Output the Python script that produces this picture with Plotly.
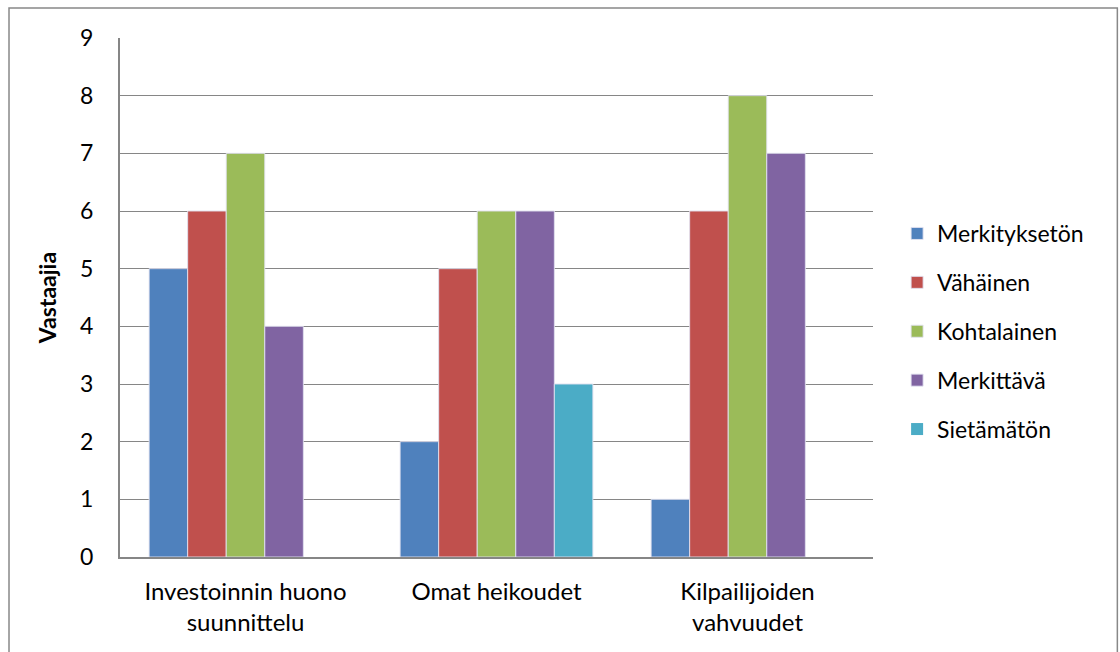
import plotly.graph_objects as go

categories = ["Investoinnin huono<br>suunnittelu", "Omat heikoudet", "Kilpailijoiden<br>vahvuudet"]
series_names = ["Merkityksetön", "Vähäinen", "Kohtalainen", "Merkittävä", "Sietämätön"]
merkitykseton = [5, 2, 1]
vahainen = [6, 5, 6]
kohtalainen = [7, 6, 8]
merkittava = [4, 6, 7]
sietamaton = [0, 3, 0]
y_ticks = [0, 1, 2, 3, 4, 5, 6, 7, 8, 9]

series_values = [merkitykseton, vahainen, kohtalainen, merkittava, sietamaton]
colors = ["#4F81BD", "#C0504D", "#9BBB59", "#8064A2", "#4BACC6"]

FONT = "Lato, Open Sans, sans-serif"
FS = 23

fig = go.Figure()
for name, vals, col in zip(series_names, series_values, colors):
    fig.add_trace(go.Bar(
        x=categories, y=vals, name=name, legendgroup=name,
        marker=dict(color=col,
                    line=dict(color="rgba(225,225,240,0.9)",
                              width=[0 if v == 0 else 1 for v in vals])),
    ))

fig.update_layout(
    width=1120, height=652,
    margin=dict(l=120, r=247, t=38, b=95),
    paper_bgcolor="white", plot_bgcolor="white",
    barmode="group", bargap=0.232, bargroupgap=0,
    font=dict(family=FONT, size=FS, color="#000000"),
    legend=dict(x=1.032, y=0.4345, xanchor="left", yanchor="middle",
                font=dict(family=FONT, size=FS, color="#000000"),
                tracegroupgap=16, itemwidth=30),
    xaxis=dict(showline=True, linecolor="#868686", linewidth=2,
               ticks="", tickfont=dict(size=24), showgrid=False,
               ticklabelstandoff=12),
    yaxis=dict(range=[0, 9], tickvals=y_ticks, showline=True,
               linecolor="#868686", linewidth=2,
               gridcolor="#868686", gridwidth=1.3, ticks="", ticklen=0,
               tickfont=dict(size=FS), zeroline=False, ticklabelstandoff=20,
               title=dict(text="<b>Vastaajia</b>", font=dict(size=FS), standoff=17)),
    shapes=[dict(type="rect", xref="paper", yref="paper",
                 x0=-0.1474, x1=1.3245, y0=-0.2, y1=1.0578,
                 line=dict(color="#888888", width=1.5), fillcolor="rgba(0,0,0,0)",
                 layer="below")],
)

fig.write_html("out.html")
